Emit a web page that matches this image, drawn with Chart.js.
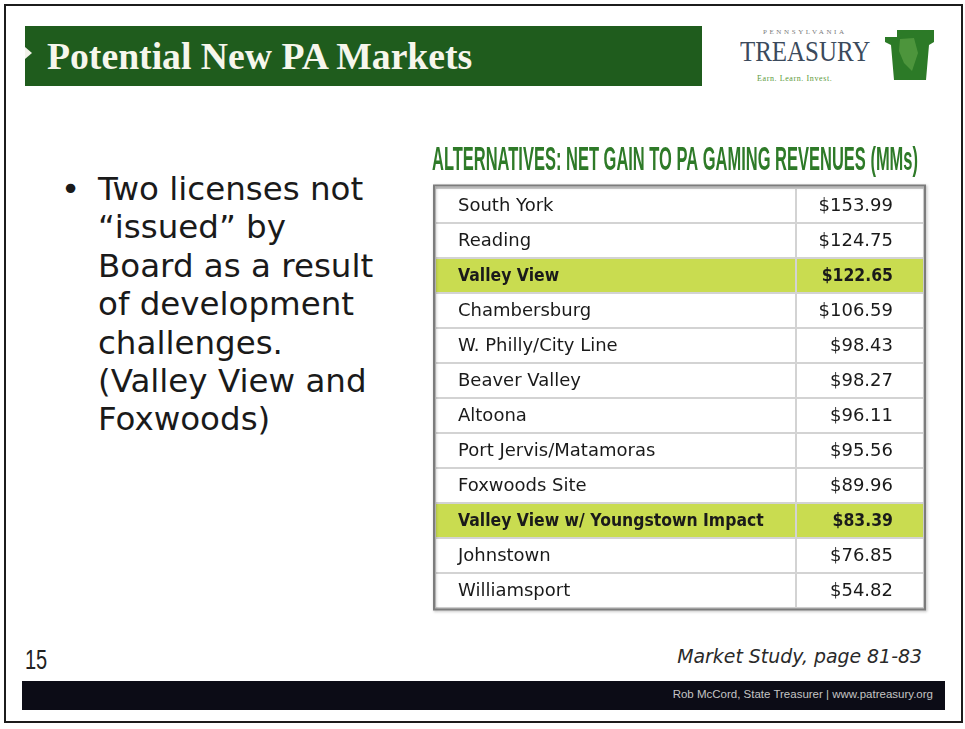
<!DOCTYPE html>
<html>
<head>
<meta charset="utf-8">
<title>Potential New PA Markets</title>
<script src="https://cdn.jsdelivr.net/npm/chart.js@4.4.1/dist/chart.umd.min.js"></script>
<style>
    html, body { margin: 0; padding: 0; background: #fff; }
    #slide { position: relative; width: 965px; height: 729px; overflow: hidden; background: #fff; }
    .frame { position: absolute; left: 4px; top: 4px; width: 955px; height: 715px; border: 2px solid #1c1c1c; }
    .titlebar { position: absolute; left: 25px; top: 26px; width: 677px; height: 60px; background: #1f5c1d; }
    .titlebar .notch { position: absolute; left: 0; top: 21px; width: 0; height: 0;
        border-top: 6px solid transparent; border-bottom: 6px solid transparent; border-left: 7px solid #f2f2ea; }
    .titlebar h1 { position: absolute; left: 22px; top: 8px; margin: 0; font: bold 37.7px "Liberation Serif", serif;
        color: #f6f6ec; white-space: nowrap; }
    .logo-pa { position: absolute; left: 763px; top: 28px; font: 7px "Liberation Serif", serif; letter-spacing: 2.6px; color: #7a7a7a; }
    .logo-treasury { position: absolute; left: 740px; top: 35px; font: 29px "Liberation Serif", serif; color: #3b4a5c;
        transform: scaleX(0.86); transform-origin: left top; }
    .logo-tag { position: absolute; left: 757px; top: 74px; font: 8px "Liberation Serif", serif; color: #5c9a3c; letter-spacing: 0.6px; }
    .keystone { position: absolute; left: 884px; top: 29px; }
    .bullet { position: absolute; left: 61px; top: 170px; font: 32.5px "DejaVu Sans", sans-serif; line-height: 38.4px; color: #1a1a1a; }
    .bullet-text { position: absolute; left: 98px; top: 170px; font: 32.5px "DejaVu Sans", sans-serif; line-height: 38.4px;
        color: #1a1a1a; white-space: nowrap; }
    #chartBox { position: absolute; left: 420px; top: 130px; width: 520px; height: 490px; }
    .pagenum { position: absolute; left: 25px; top: 645px; font: 27px "Liberation Sans", sans-serif; color: #222;
        transform: scaleX(0.74); transform-origin: left top; }
    .source { position: absolute; right: 43px; top: 645px; font: italic 18.9px "DejaVu Sans", sans-serif; color: #2a2a2a; }
    .footer { position: absolute; left: 22px; top: 681px; width: 923px; height: 29px; background: #0c0c16; }
    .footer span { position: absolute; right: 12px; top: 7px; font: 11.5px "Liberation Sans", sans-serif; color: #c4c4c4; }
</style>
</head>
<body>
<div id="slide">
    <div class="frame"></div>
    <div class="titlebar"><span class="notch"></span><h1>Potential New PA Markets</h1></div>

    <div class="logo-pa">PENNSYLVANIA</div>
    <div class="logo-treasury">TREASURY</div>
    <div class="logo-tag">Earn. Learn. Invest.</div>
    <svg class="keystone" width="52" height="52" viewBox="0 0 52 52">
        <polygon points="1,8 13,8 13,1 50,1 50,13 45,16 42,51 10,51 7,16 1,13" fill="#2c7a27"/>
        <polygon points="16,10 30,9 34,24 28,42 20,34 15,22" fill="#7fbf5c" opacity="0.4"/>
    </svg>

    <div class="bullet">•</div>
    <div class="bullet-text">Two licenses not<br>“issued” by<br>Board as a result<br>of development<br>challenges.<br>(Valley View and<br>Foxwoods)</div>

    <div id="chartBox"><canvas id="revenueTable" width="520" height="490"></canvas></div>

    <div class="pagenum">15</div>
    <div class="source">Market Study, page 81-83</div>
    <div class="footer"><span>Rob McCord, State Treasurer | www.patreasury.org</span></div>
</div>

<script>
// --- Table data (net gain to PA gaming revenues, $ millions) ---
const sites = [
    'South York',
    'Reading',
    'Valley View',
    'Chambersburg',
    'W. Philly/City Line',
    'Beaver Valley',
    'Altoona',
    'Port Jervis/Matamoras',
    'Foxwoods Site',
    'Valley View w/ Youngstown Impact',
    'Johnstown',
    'Williamsport'
];
const revenues = [153.99, 124.75, 122.65, 106.59, 98.43, 98.27, 96.11, 95.56, 89.96, 83.39, 76.85, 54.82];
const highlightedSites = ['Valley View', 'Valley View w/ Youngstown Impact'];
const tableTitle = 'ALTERNATIVES: NET GAIN TO PA GAMING REVENUES (MMs)';

// column boundaries on the (hidden) 0..1 x axis
const NAME_COL_END = 0.739;
const HIGHLIGHT = '#c9dc50';

const isHighlighted = name => highlightedSites.includes(name);
const rowColors = sites.map(name => isHighlighted(name) ? HIGHLIGHT : '#ffffff');

/**
 * Writes the cell texts and the title, and frames the table.
 */
const tablePlugin = {
    id: 'tablePlugin',
    afterDatasetsDraw(chart) {
        const ctx = chart.ctx;
        const xScale = chart.scales.x;
        const yScale = chart.scales.y;
        const nameX = xScale.getPixelForValue(0) + 23;
        const valueX = xScale.getPixelForValue(1) - 31;

        ctx.save();
        ctx.fillStyle = '#1a1a1a';
        ctx.textBaseline = 'middle';
        sites.forEach((name, i) => {
            const y = yScale.getPixelForValue(i) + 1;
            const value = '$' + revenues[i].toFixed(2);
            const bold = isHighlighted(name);
            ctx.font = (bold ? 'bold ' : '') + '18px "DejaVu Sans"';
            const sx = bold ? 0.87 : 1;

            ctx.save();
            ctx.translate(nameX, y);
            ctx.scale(sx, 1);
            ctx.textAlign = 'left';
            ctx.fillText(name, 0, 0);
            ctx.restore();

            ctx.save();
            ctx.translate(valueX, y);
            ctx.scale(sx, 1);
            ctx.textAlign = 'right';
            ctx.fillText(value, 0, 0);
            ctx.restore();
        });
        ctx.restore();
    },
    afterDraw(chart) {
        const ctx = chart.ctx;
        const area = chart.chartArea;

        // outer frame sits just outside the grid, with a light drop shadow
        ctx.save();
        ctx.strokeStyle = '#7c7c7c';
        ctx.lineWidth = 2;
        ctx.shadowColor = 'rgba(0,0,0,0.3)';
        ctx.shadowBlur = 3;
        ctx.shadowOffsetX = 1;
        ctx.shadowOffsetY = 1;
        ctx.strokeRect(area.left - 1, area.top - 2, area.right - area.left + 2, area.bottom - area.top + 4);
        ctx.restore();

        // condensed green heading, squeezed to the table width
        ctx.save();
        ctx.font = 'bold 34px "Liberation Sans"';
        ctx.fillStyle = '#2e7a28';
        ctx.textAlign = 'center';
        ctx.textBaseline = 'alphabetic';
        const w = ctx.measureText(tableTitle).width;
        ctx.translate(255, 40);
        ctx.scale(486 / w, 1);
        ctx.fillText(tableTitle, 0, 0);
        ctx.restore();
    }
};

const gridStyle = {
    color: '#d3d3d3',
    lineWidth: 2,
    drawTicks: false,
    z: 1
};

new Chart(document.getElementById('revenueTable'), {
    type: 'bar',
    data: {
        labels: sites,
        datasets: [
            {
                label: 'Alternative',
                data: sites.map(() => [0, NAME_COL_END]),
                backgroundColor: rowColors,
                borderWidth: 0,
                barPercentage: 1,
                categoryPercentage: 1,
                grouped: false
            },
            {
                label: 'Net gain (MMs)',
                data: revenues.map(() => [NAME_COL_END, 1]),
                backgroundColor: rowColors,
                borderWidth: 0,
                barPercentage: 1,
                categoryPercentage: 1,
                grouped: false
            }
        ]
    },
    options: {
        indexAxis: 'y',
        responsive: false,
        animation: false,
        devicePixelRatio: 1,
        events: [],
        layout: { padding: { left: 15, top: 57.5, right: 16, bottom: 12.5 } },
        scales: {
            x: {
                type: 'linear',
                min: 0,
                max: 1,
                position: 'top',
                grid: gridStyle,
                border: { display: false },
                ticks: { display: false },
                afterBuildTicks: axis => {
                    axis.ticks = [0, NAME_COL_END, 1].map(v => ({ value: v }));
                }
            },
            y: {
                type: 'category',
                offset: true,
                grid: Object.assign({ offset: true }, gridStyle),
                border: { display: false },
                ticks: { display: false }
            }
        },
        plugins: {
            legend: { display: false },
            tooltip: { enabled: false },
            title: { display: false }
        }
    },
    plugins: [tablePlugin]
});
</script>
</body>
</html>
